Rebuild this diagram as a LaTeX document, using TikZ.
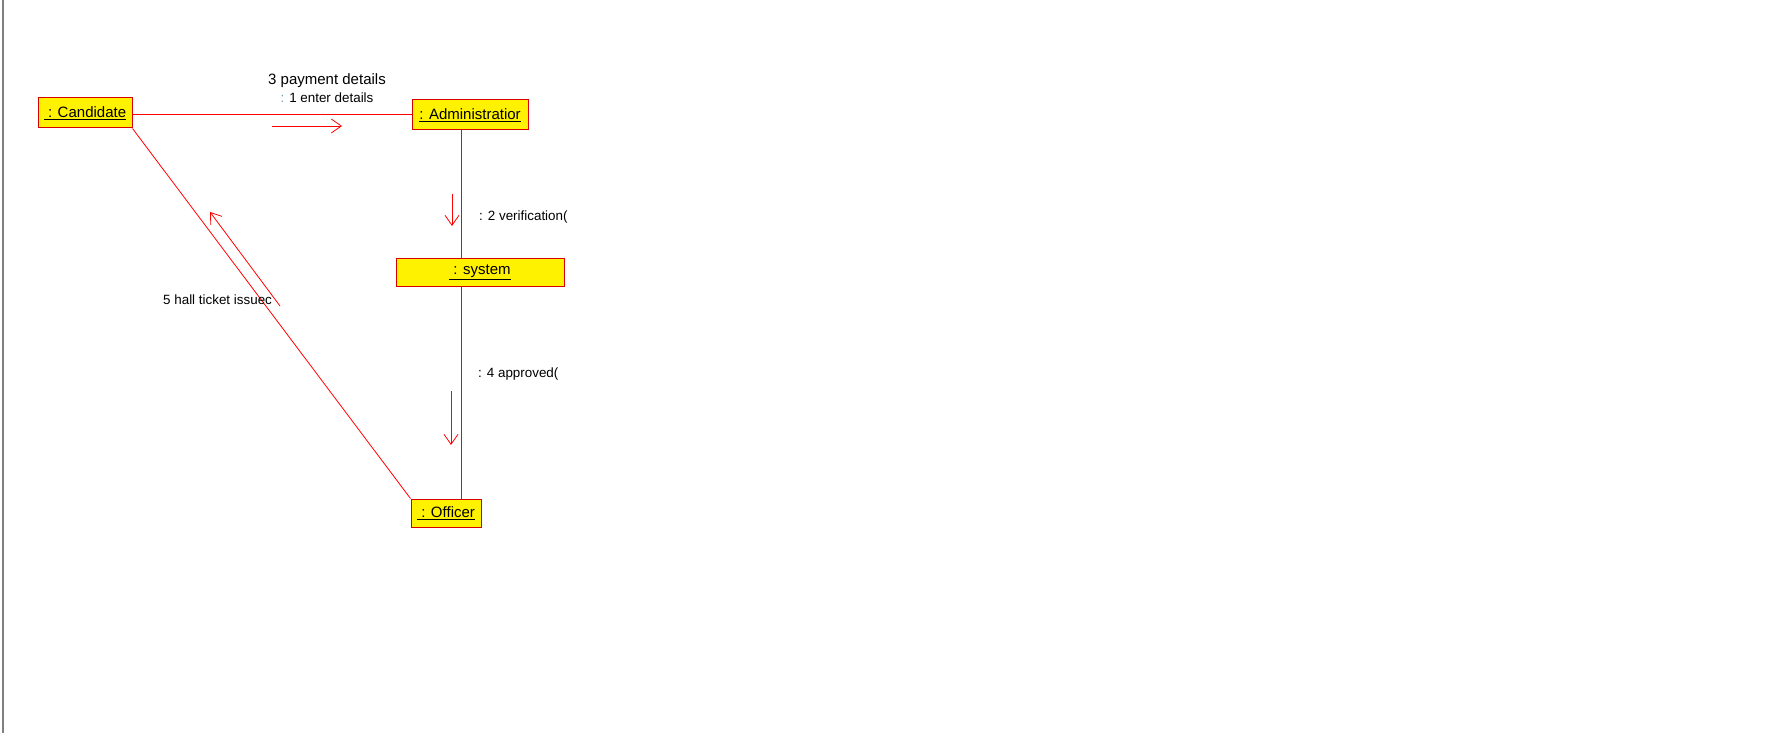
\documentclass[tikz,border=0pt]{standalone}
\usepackage{fontspec}
\setmainfont{Liberation Sans}
\usetikzlibrary{positioning, arrows.meta, calc}
\tikzset{
  object/.style={rectangle, draw=red!85!black, line width=1pt, fill=yellow, inner sep=0pt, align=center, font=\fontsize{15}{17}\selectfont},
  link/.style={draw=red, line width=0.8pt},
  msg/.style={draw=red, line width=0.8pt, -{Straight Barb[length=10pt,width=14pt]}},
  msglabel/.style={font=\fontsize{13.4}{15}\selectfont, inner sep=0pt}
}
\begin{document}
\begin{tikzpicture}[x=1pt, y=-1pt]
  \useasboundingbox (0,0) rectangle (1789,733);
  \fill[white] (0,0) rectangle (1789,733);
  \draw[gray, line width=2pt] (3,0) -- (3,733);

  % Objekte
  \node (cand) [object, minimum width=94pt, minimum height=30pt] at (85,113) {\underline{\ : Candidate}};
  \node (admin) [object, minimum width=116pt, minimum height=30pt] at (470,115) {\underline{: Administratior}};
  \node (sys) [object, minimum width=168pt, minimum height=28pt] at (480,272) {\underline{\ : system}};
  \node (off) [object, minimum width=70pt, minimum height=28pt] at (446,513) {\underline{\ : Officer}};

  % Verbindungen
  \coordinate (lane) at (461,0);
  \draw [link] (cand.east |- 0,114) -- (admin.west |- 0,114);
  \draw [link] (admin.south -| lane) -- (sys.north -| lane);
  \draw [link] (sys.south -| lane) -- (off.north -| lane);
  \draw [link] (cand.south east) -- (off.north west);

  % Nachrichten
  \coordinate (m1s) at (272,126);
  \coordinate (m1e) at (342,126);
  \draw [msg] (m1s) -- (m1e);
  \node (m3) [msglabel, font=\fontsize{15}{17}\selectfont] at (327,81) {3 payment details};
  \node (m1) [msglabel, below=4pt of m3] {{\color{cyan!40!gray}:} 1 enter details};

  \coordinate (m2s) at (452,194);
  \coordinate (m2e) at (452,226);
  \draw [msg] (m2s) -- (m2e);
  \node (m2) [msglabel, anchor=west] at (479,217) {: 2 verification(};

  \coordinate (m4s) at (451,391);
  \coordinate (m4e) at (451,445);
  \draw [msg] (m4s) -- (m4e);
  \node (m4) [msglabel, anchor=west] at (478,374) {: 4 approved(};

  \coordinate (m5s) at (280,306);
  \coordinate (m5e) at (210,212);
  \draw [msg] (m5s) -- (m5e);
  \node (m5) [msglabel, anchor=west] at (163,300) {5 hall ticket issuec};
\end{tikzpicture}
\end{document}
